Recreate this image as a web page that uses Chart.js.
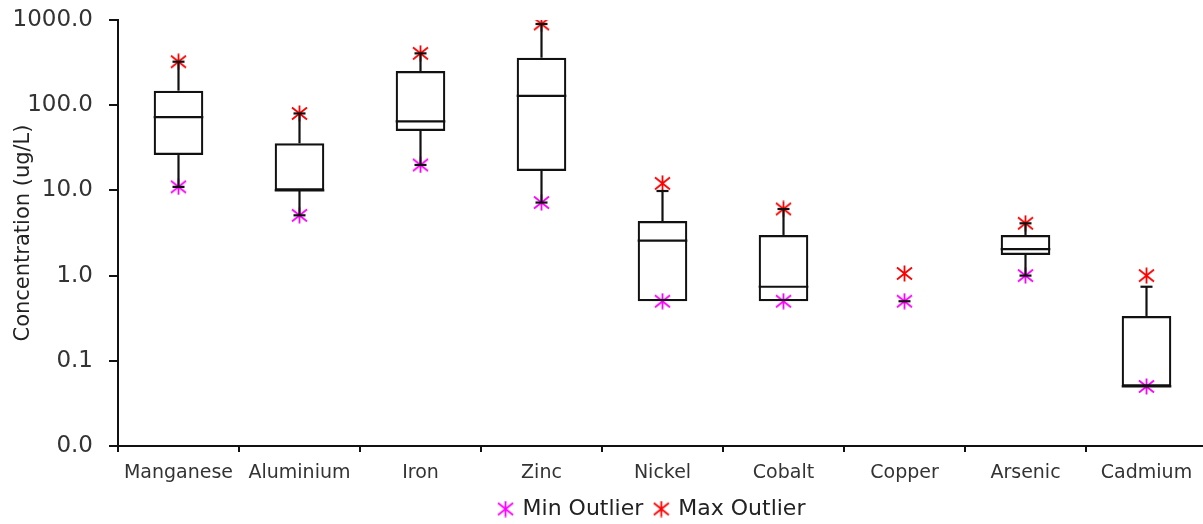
<!DOCTYPE html>
<html>
<head>
<meta charset="utf-8">
<script src="https://cdn.jsdelivr.net/npm/chart.js@4"></script>
<style>
  html, body { margin: 0; padding: 0; background: #fff; overflow: hidden; }
  #wrap { position: relative; width: 1212px; height: 524px; }
</style>
</head>
<body>
<div id="wrap"><canvas id="boxChart"></canvas></div>
<script>
/* Chart values */
var categories = ['Manganese', 'Aluminium', 'Iron', 'Zinc', 'Nickel', 'Cobalt', 'Copper', 'Arsenic', 'Cadmium'];
var whiskerLow  = [11,   5.1,  19.9, 7.2,  0.5,  0.5,  0.5,  1.0,  0.05];
var q1          = [26,   10,   49.8, 16.9, 0.5,  0.5,  null, 1.75, 0.05];
var median      = [72.6, 10,   64.7, 129,  2.57, 0.74, null, 2.04, 0.05];
var q3          = [148,  35.7, 252,  361,  4.37, 3.0,  null, 3.0,  0.336];
var whiskerHigh = [324,  80,   406,  898,  9.84, 6.05, 0.5,  4.11, 0.74];
var minOutlier  = [11,   5.1,  19.9, 7.2,  0.5,  0.5,  0.5,  1.0,  0.05];
var maxOutlier  = [324,  80,   406,  898,  12.1, 6.05, 1.06, 4.11, 1.0];
var yTicks = [0.01, 0.1, 1, 10, 100, 1000];

var lineColor = '#111';
var font = 'DejaVu Sans';

/* Six armed asterisk used for the outlier markers */
function makeStar(color) {
	var c = document.createElement('canvas');
	c.width = 17;
	c.height = 17;
	var g = c.getContext('2d');
	g.strokeStyle = color;
	g.lineWidth = 1.8;
	g.beginPath();
	g.moveTo(8.5, 0.5); g.lineTo(8.5, 16.5);
	g.moveTo(1, 2.5);   g.lineTo(16, 14.5);
	g.moveTo(16, 2.5);  g.lineTo(1, 14.5);
	g.stroke();
	return c;
}

/* Whiskers, caps and medians drawn through the chart scales */
var whiskerPlugin = {
	id: 'whiskers',
	afterLayout: function(chart) {
		// legend sits a little left of the plot centre in the original
		chart.legend.left -= 10;
		chart.legend.right -= 10;
	},
	afterDatasetsDraw: function(chart) {
		var ctx = chart.ctx;
		var xs = chart.scales.x;
		var ys = chart.scales.y;
		var boxes = chart.getDatasetMeta(0).data;

		function line(x1, y1, x2, y2) {
			ctx.beginPath();
			ctx.moveTo(x1, y1);
			ctx.lineTo(x2, y2);
			ctx.stroke();
		}

		ctx.save();
		ctx.strokeStyle = lineColor;
		ctx.lineWidth = 2.2;
		for (var i = 0; i < categories.length; i++) {
			var x = xs.getPixelForValue(i);
			var lo = ys.getPixelForValue(whiskerLow[i]);
			var hi = ys.getPixelForValue(whiskerHigh[i]);
			if (q1[i] !== null) {
				line(x, ys.getPixelForValue(q1[i]), x, lo);
				line(x, ys.getPixelForValue(q3[i]), x, hi);
				var w = boxes[i].width / 2;
				var m = ys.getPixelForValue(median[i]);
				line(x - w, m, x + w, m);
			}
			if (whiskerLow[i] !== q1[i]) line(x - 6, lo, x + 6, lo);
			if (whiskerHigh[i] !== q3[i] && whiskerHigh[i] !== whiskerLow[i]) line(x - 6, hi, x + 6, hi);
		}
		ctx.restore();
	}
};

var ctx = document.getElementById('boxChart').getContext('2d');

var chart = new Chart(ctx, {
	type: 'bar',
	data: {
		labels: categories,
		datasets: [
			{
				label: 'Box',
				data: categories.map(function(c, i) { return q1[i] === null ? null : [q1[i], q3[i]]; }),
				backgroundColor: 'rgba(0,0,0,0)',
				borderColor: lineColor,
				borderWidth: 2.2,
				borderSkipped: false,
				barPercentage: 0.41,
				categoryPercentage: 1
			},
			{
				type: 'line',
				label: 'Min Outlier',
				data: minOutlier,
				showLine: false,
				borderColor: '#ff00ff',
				backgroundColor: '#ff00ff',
				pointStyle: makeStar('#ff00ff')
			},
			{
				type: 'line',
				label: 'Max Outlier',
				data: maxOutlier,
				showLine: false,
				borderColor: '#ff0000',
				backgroundColor: '#ff0000',
				pointStyle: makeStar('#ff0000')
			}
		]
	},
	options: {
		responsive: true,
		maintainAspectRatio: false,
		animation: false,
		layout: {
			padding: { top: 20, right: 3, left: 0, bottom: 0 }
		},
		scales: {
			x: {
				type: 'category',
				offset: true,
				grid: {
					offset: true,
					drawOnChartArea: false,
					tickLength: 6,
					color: lineColor,
					lineWidth: 2
				},
				border: { color: lineColor, width: 2 },
				ticks: {
					font: { family: font, size: 19 },
					color: '#333',
					padding: 10,
					maxRotation: 0,
					autoSkip: false
				},
				afterFit: function(s) { s.height = 40; }
			},
			y: {
				type: 'logarithmic',
				min: 0.01,
				max: 1000,
				afterBuildTicks: function(s) {
					s.ticks = yTicks.map(function(v) { return { value: v }; });
				},
				ticks: {
					callback: function(v) { return Number(v).toFixed(1); },
					font: { family: font, size: 23 },
					color: '#333',
					padding: 16
				},
				grid: {
					drawOnChartArea: false,
					tickLength: 9,
					color: lineColor,
					lineWidth: 2
				},
				border: { color: lineColor, width: 2 },
				title: {
					display: true,
					text: 'Concentration (ug/L)',
					font: { family: font, size: 21 },
					color: '#222',
					padding: { top: 11, bottom: 0 }
				},
				afterFit: function(s) {
					s.width = 118;
					s.paddingTop = 10;
					s.paddingBottom = 10;
				}
			}
		},
		plugins: {
			tooltip: { enabled: false },
			legend: {
				position: 'bottom',
				fullSize: false,
				maxHeight: 38,
				labels: {
					usePointStyle: true,
					pointStyleWidth: 12,
					font: { family: font, size: 22 },
					color: '#222',
					padding: 12,
					filter: function(item) { return item.datasetIndex > 0; }
				}
			}
		}
	},
	plugins: [whiskerPlugin]
});
</script>
</body>
</html>
